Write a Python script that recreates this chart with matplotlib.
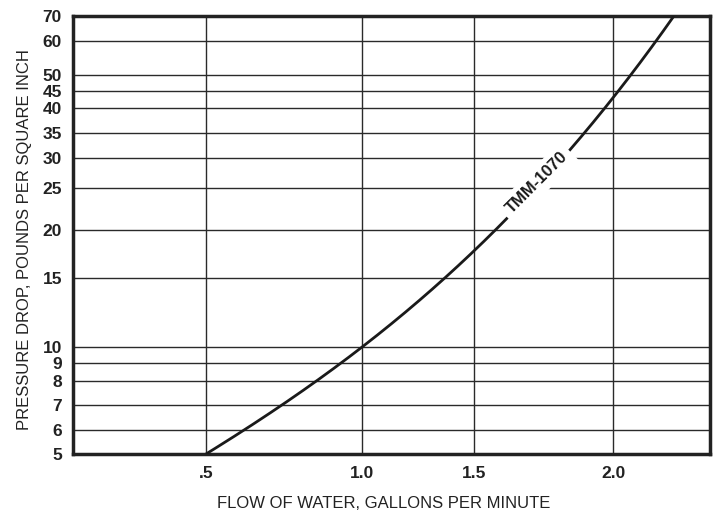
import matplotlib
matplotlib.use("Agg")
import matplotlib.pyplot as plt
import numpy as np

# Data
flow_gpm = [0.5, 0.623, 0.744, 0.860, 0.932, 1.0, 1.27, 1.504, 1.604, 1.845, 2.0, 2.219]
pressure_psi = [5.0, 6.0, 7.0, 8.0, 9.0, 10.0, 13.2, 18.0, 20.9, 31.5, 42.3, 70.0]
x_ticks = [0.5, 1.0, 1.5, 2.0]
x_tick_labels = [".5", "1.0", "1.5", "2.0"]
y_ticks = [5, 6, 7, 8, 9, 10, 15, 20, 25, 30, 35, 40, 45, 50, 60, 70]
series_label = "TMM-1070"

# The printed grid is hand-ruled: gridline positions (pixels) for each mark
x_grid_px = [50.0, 206.0, 362.0, 474.0, 613.0, 752.0]
x_grid_val = [0.0, 0.5, 1.0, 1.5, 2.0, 2.5]
y_grid_px = [454, 430, 405, 381, 363, 347, 278, 230, 188, 158, 133, 108, 91, 75, 41, 16]

def xf(x):
    return np.interp(x, x_grid_val, x_grid_px)

def xi(p):
    return np.interp(p, x_grid_px, x_grid_val)

_ly = np.log(np.array(y_ticks, float))
_py = -np.array(y_grid_px, float)

def yf(v):
    v = np.asarray(v, float)
    return np.interp(np.log(np.clip(v, 1e-9, None)), _ly, _py)

def yi(p):
    return np.exp(np.interp(p, _py, _ly))

plt.rcParams['font.family'] = ['Liberation Sans', 'DejaVu Sans']

fig = plt.figure(figsize=(7.17, 5.19), dpi=100)
ax = fig.add_axes([73/717, 1 - 454/519, (710-73)/717, (454-16)/519])
ax.set_xscale('function', functions=(xf, xi))
ax.set_yscale('function', functions=(yf, yi))
ax.set_ylim(5, 70)
ax.set_xlim(xi(73.0), xi(710.0))

# smooth curve: least-squares cubic through the read points in the chart's own scale space
sx = xf(np.array(flow_gpm))
sy = yf(np.array(pressure_psi))
w = np.ones(len(sx)); w[0] = w[-1] = 6.0; w[5] = 4.0
coef = np.polyfit(sx, sy, 3, w=w)
gx = np.linspace(sx[0], sx[-1], 400)
gy = np.polyval(coef, gx)
ax.plot(xi(gx), yi(gy), color='#1a1a1a', lw=2.0, zorder=3, solid_capstyle='butt')

ax.set_yticks(y_ticks)
ax.set_yticklabels([str(v) for v in y_ticks], fontweight='bold', fontsize=12.5)
ax.yaxis.set_minor_locator(matplotlib.ticker.NullLocator())
ax.xaxis.set_minor_locator(matplotlib.ticker.NullLocator())
ax.set_xticks(x_ticks)
ax.set_xticklabels(x_tick_labels, fontweight='bold', fontsize=12.5)
ax.tick_params(axis='y', length=0, pad=8, colors='#222222')
ax.tick_params(axis='x', length=0, pad=9, colors='#222222')
ax.grid(True, color='#2a2a2a', lw=1.0)
for s in ax.spines.values():
    s.set_linewidth(2.5)
    s.set_color('#222222')

ax.set_xlabel("FLOW OF WATER, GALLONS PER MINUTE", fontsize=12, color='#222222')
ax.xaxis.set_label_coords((384-73)/637, (454-503)/438)
ax.xaxis.label.set_va('center')
ax.set_ylabel("PRESSURE DROP, POUNDS PER SQUARE INCH", fontsize=12, color='#222222')
ax.yaxis.set_label_coords((25-73)/637, (454-240)/438)
ax.yaxis.label.set_va('center')

ax.text(1.727, 25.8, series_label, rotation=45, fontweight='bold', fontsize=12,
        ha='center', va='center', zorder=4, color='#1a1a1a',
        bbox=dict(facecolor='white', edgecolor='none', pad=4))

fig.savefig("out.png", dpi=100, facecolor='white')
